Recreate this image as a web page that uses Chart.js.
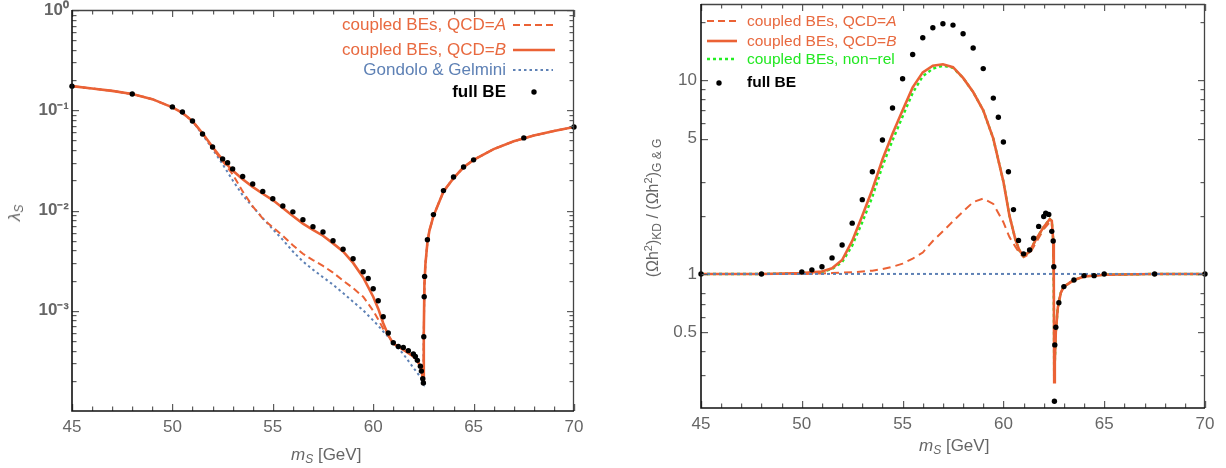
<!DOCTYPE html>
<html><head><meta charset="utf-8">
<script src="https://cdn.jsdelivr.net/npm/chart.js@4/dist/chart.umd.min.js"></script>
<style>
html,body{margin:0;padding:0;background:#fff;}
body{width:1226px;height:468px;position:relative;overflow:hidden;font-family:"Liberation Sans",Arial,Helvetica,sans-serif;}
#c1{position:absolute;left:0;top:0;}
#c2{position:absolute;left:600px;top:0;}
.t{position:absolute;white-space:nowrap;line-height:20px;}
.lg1{font-size:17px;text-align:right;right:720px;}
.lg2{font-size:15.5px;left:747px;}
.or{color:#e8693f;}
.bl{color:#5e81b5;}
.gr{color:#22e822;}
.bk{color:#000;font-weight:bold;}
.ax{color:#666;font-size:17px;}
.ax sub{font-size:12px;vertical-align:-3px;line-height:0;}
.ax sup{font-size:11px;vertical-align:6px;line-height:0;}
.rot{position:absolute;white-space:nowrap;transform:translate(-50%,-50%) rotate(-90deg);}
svg{position:absolute;left:0;top:0;pointer-events:none;}
</style>
</head><body>
<canvas id="c1" width="600" height="468"></canvas>
<canvas id="c2" width="626" height="468"></canvas>

<!-- left legend -->
<div class="t lg1 or" style="top:15px">coupled BEs, QCD=<i>A</i></div>
<div class="t lg1 or" style="top:40px">coupled BEs, QCD=<i>B</i></div>
<div class="t lg1 bl" style="top:60px">Gondolo &amp; Gelmini</div>
<div class="t lg1 bk" style="top:82px">full BE</div>
<!-- right legend -->
<div class="t lg2 or" style="top:11px">coupled BEs, QCD=<i>A</i></div>
<div class="t lg2 or" style="top:31px">coupled BEs, QCD=<i>B</i></div>
<div class="t lg2 gr" style="top:49px">coupled BEs, non−rel</div>
<div class="t lg2 bk" style="top:72px">full BE</div>

<!-- axis titles -->
<div class="t ax" style="left:291px;top:445px"><i>m</i><sub><i>S</i></sub> [GeV]</div>
<div class="t ax" style="left:919px;top:436px"><i>m</i><sub><i>S</i></sub> [GeV]</div>
<div class="rot ax" style="left:15px;top:213px"><i>λ</i><sub><i>S</i></sub></div>
<div class="rot ax" style="left:653px;top:208px;font-size:16px">(Ωh<sup>2</sup>)<sub>KD</sub> / (Ωh<sup>2</sup>)<sub>G &amp; G</sub></div>

<svg width="1226" height="468">
  <line x1="513" y1="25" x2="555" y2="25" stroke="#eb6235" stroke-width="2" stroke-dasharray="7,4"/>
  <line x1="513" y1="50" x2="555" y2="50" stroke="#eb6235" stroke-width="2.6"/>
  <line x1="513" y1="70" x2="553" y2="70" stroke="#5e81b5" stroke-width="2" stroke-dasharray="2.5,3"/>
  <circle cx="534" cy="92" r="2.7" fill="#000"/>
  <line x1="707" y1="21" x2="737" y2="21" stroke="#eb6235" stroke-width="2" stroke-dasharray="7,4"/>
  <line x1="707" y1="41" x2="737" y2="41" stroke="#eb6235" stroke-width="2.6"/>
  <line x1="707" y1="59" x2="737" y2="59" stroke="#22ee22" stroke-width="2.4" stroke-dasharray="3,3"/>
  <circle cx="719" cy="83" r="2.7" fill="#000"/>
</svg>

<script>
// ---------- tick values / labels ----------
const xTickValues = [45, 50, 55, 60, 65, 70];
const leftYTickValues = [0.001, 0.01, 0.1, 1];
const leftYTickLabels = ['10⁻³', '10⁻²', '10⁻¹', '10⁰'];
const rightYTickValues = [0.5, 1, 5, 10];
const rightYTickLabels = ['0.5', '1', '5', '10'];
const rightYMinorTicks = [0.3, 0.4, 0.6, 0.7, 0.8, 2, 3, 6, 7, 8, 9, 20];

// ---------- left panel data (lambda_S) ----------
const leftX  = [45, 46, 47, 48, 49, 50, 50.5, 51, 51.5, 52,
                52.5, 53, 53.5, 54, 54.5, 55, 55.5, 56, 56.5, 57,
                57.5, 58, 58.5, 59, 59.5, 60, 60.25, 60.5, 60.75, 61,
                61.5, 62, 62.2, 62.4, 62.5, 62.52, 62.55, 62.6, 62.7, 62.8,
                63, 63.5, 64, 64.5, 65, 66, 67, 68, 69, 70];
const leftB  = [0.174, 0.165, 0.156, 0.145, 0.129, 0.107, 0.094, 0.078, 0.059, 0.043,
                0.032, 0.025, 0.0205, 0.0172, 0.0147, 0.0127, 0.0106, 0.0088, 0.0074, 0.0064,
                0.0056, 0.0047, 0.0039, 0.0030, 0.00215, 0.00138, 0.00105, 0.00075, 0.00057, 0.00047,
                0.00041, 0.00035, 0.00032, 0.00026, 0.00019, 0.0006, 0.0018, 0.0029, 0.0048, 0.0063,
                0.0088, 0.0155, 0.021, 0.027, 0.032, 0.041, 0.049, 0.056, 0.062, 0.068];
const leftA  = [0.174, 0.165, 0.156, 0.145, 0.129, 0.107, 0.094, 0.078, 0.059, 0.042,
                0.031, 0.023, 0.0155, 0.011, 0.0083, 0.0068, 0.0056, 0.0045, 0.0037, 0.0032,
                0.0028, 0.0024, 0.0020, 0.00168, 0.00138, 0.00100, 0.00082, 0.00066, 0.00057, 0.00047,
                0.00041, 0.00035, 0.00032, 0.00026, 0.00019, 0.0006, 0.0018, 0.0029, 0.0048, 0.0063,
                0.0088, 0.0155, 0.021, 0.027, 0.032, 0.041, 0.049, 0.056, 0.062, 0.068];
const leftGG = [0.174, 0.165, 0.156, 0.145, 0.129, 0.107, 0.094, 0.078, 0.057, 0.041,
                0.029, 0.020, 0.0142, 0.0109, 0.0084, 0.0065, 0.0051, 0.0039, 0.0031, 0.00257,
                0.00216, 0.00182, 0.0015, 0.00123, 0.00101, 0.0008, 0.00071, 0.00062, 0.00055, 0.00048,
                0.00037, 0.00027, 0.00024, 0.00021, 0.00019, 0.0006, 0.0018, 0.0029, 0.0048, 0.0063,
                0.0088, 0.0155, 0.021, 0.027, 0.032, 0.041, 0.049, 0.056, 0.062, 0.068];
const leftBEx = [45, 48, 50, 50.5, 51, 51.5, 52, 52.5, 52.75, 53,
                 53.5, 54, 54.5, 55, 55.5, 56, 56.5, 57, 57.5, 58,
                 58.5, 59, 59.5, 59.75, 60, 60.25, 60.5, 60.75, 61, 61.25,
                 61.5, 61.75, 62, 62.1, 62.2, 62.35, 62.4, 62.47, 62.5, 62.52,
                 62.54, 62.56, 62.7, 63, 63.5, 64, 64.5, 65, 67.5, 70];
const leftBEy = [0.174, 0.145, 0.108, 0.096, 0.078, 0.058, 0.043, 0.0327, 0.030, 0.026,
                 0.0218, 0.0184, 0.0155, 0.0131, 0.0111, 0.0097, 0.0081, 0.0069, 0.0061, 0.0050,
                 0.0041, 0.0033, 0.00245, 0.0021, 0.00166, 0.00126, 0.00087, 0.00060, 0.00048, 0.00044,
                 0.00043, 0.00040, 0.00037, 0.00035, 0.00032, 0.00028, 0.00025, 0.00021, 0.00019, 0.00055,
                 0.00138, 0.0022, 0.0051, 0.0091, 0.0158, 0.0216, 0.0272, 0.032, 0.053, 0.068];

// ---------- right panel data (relic abundance ratio) ----------
const rightX = [45, 48, 50, 51, 51.5, 52, 52.5, 53, 53.5, 54,
                54.5, 55, 55.5, 56, 56.5, 57, 57.5, 58, 58.5, 59,
                59.5, 60, 60.3, 60.6, 60.8, 61, 61.3, 61.6, 62, 62.3,
                62.4, 62.47, 62.5, 62.52, 62.55, 62.6, 62.7, 62.85, 63, 63.5,
                64, 65, 67.5, 70];
const rightB = [1.0, 1.0, 1.01, 1.03, 1.07, 1.18, 1.48, 2.0, 2.73, 3.9,
                5.3, 7.0, 9.2, 11.0, 11.9, 12.1, 11.7, 10.3, 8.7, 7.0,
                5.0, 3.0, 2.0, 1.5, 1.32, 1.24, 1.3, 1.5, 1.75, 1.92,
                1.88, 1.5, 0.9, 0.276, 0.35, 0.5, 0.67, 0.8, 0.86, 0.93,
                0.97, 0.99, 1.0, 1.0];
const rightNR = [1.0, 1.0, 1.01, 1.025, 1.06, 1.15, 1.4, 1.85, 2.5, 3.6,
                 4.9, 6.5, 8.6, 10.5, 11.5, 11.9, 11.6, 10.3, 8.7, 7.0,
                 5.0, 3.0, 2.0, 1.5, 1.32, 1.24, 1.3, 1.5, 1.75, 1.92,
                 1.88, 1.5, 0.9, 0.276, 0.35, 0.5, 0.67, 0.8, 0.86, 0.93,
                 0.97, 0.99, 1.0, 1.0];
const rightA = [1.0, 1.0, 1.0, 1.005, 1.01, 1.015, 1.02, 1.03, 1.04, 1.06,
                1.09, 1.13, 1.2, 1.29, 1.48, 1.66, 1.87, 2.1, 2.35, 2.45,
                2.3, 1.85, 1.55, 1.38, 1.28, 1.22, 1.27, 1.44, 1.7, 1.85,
                1.82, 1.45, 0.9, 0.3, 0.38, 0.52, 0.7, 0.8, 0.87, 0.93,
                0.97, 0.99, 1.0, 1.0];
const rightGGx = [45, 70];
const rightGG  = [1.0, 1.0];
const rightBEx = [45, 48, 50, 50.5, 51, 51.5, 52, 52.5, 53, 53.5,
                  54, 54.5, 55, 55.5, 56, 56.5, 57, 57.5, 58, 58.5,
                  59, 59.5, 59.75, 60, 60.25, 60.5, 60.75, 61, 61.3, 61.5,
                  61.75, 62, 62.1, 62.25, 62.4, 62.47, 62.5, 62.53, 62.55, 62.6,
                  62.75, 63, 63.5, 64, 64.5, 65, 67.5, 70];
const rightBEy = [1.0, 1.0, 1.024, 1.05, 1.09, 1.21, 1.41, 1.83, 2.42, 3.37,
                  4.92, 7.2, 10.2, 13.6, 16.6, 18.7, 19.6, 19.3, 17.4, 14.7,
                  11.5, 8.1, 6.45, 4.8, 3.37, 2.15, 1.49, 1.27, 1.33, 1.53,
                  1.76, 1.98, 2.06, 2.03, 1.66, 1.48, 1.09, 0.22, 0.43, 0.53,
                  0.71, 0.86, 0.93, 0.98, 0.98, 1.0, 1.0, 1.0];

// ---------- helpers ----------
const ORANGE = '#eb6235', BLUE = '#5e81b5', GREEN = '#22ee22';
const pts = (xs, ys) => xs.map((x, i) => ({x, y: ys[i]}));
const xMinorTicks = [];
for (let v = 46; v < 70; v++) if (v % 5) xMinorTicks.push(v);
const leftYMinorTicks = [];
for (let k = -4; k <= -1; k++) for (let m = 2; m <= 9; m++) leftYMinorTicks.push(+(m * Math.pow(10, k)).toPrecision(3));

const framePlugin = {
  id: 'frameTicks',
  afterDraw(chart, args, o) {
    const {ctx, chartArea: a} = chart;
    const xs = chart.scales.x, ys = chart.scales.y;
    ctx.save();
    ctx.setLineDash([]);
    ctx.fillStyle = '#5c5c5c';
    const xt = (v, l) => { const p = Math.round(xs.getPixelForValue(v));
      ctx.fillRect(p, a.bottom - l, 1.2, l); ctx.fillRect(p, a.top, 1.2, l); };
    const yt = (v, l) => { const p = Math.round(ys.getPixelForValue(v));
      ctx.fillRect(a.left, p, l, 1.2); ctx.fillRect(a.right - l, p, l, 1.2); };
    [...o.xMajor].forEach(v => xt(v, 7)); [...o.xMinor].forEach(v => xt(v, 4.5));
    [...o.yMajor].forEach(v => yt(v, 7)); [...o.yMinor].forEach(v => yt(v, 4.5));
    ctx.lineCap = 'butt';
    ctx.strokeStyle = '#444'; ctx.lineWidth = 1.3;
    ctx.beginPath(); ctx.moveTo(a.left, a.top + 0.5); ctx.lineTo(a.right - 0.5, a.top + 0.5); ctx.lineTo(a.right - 0.5, a.bottom); ctx.stroke();
    ctx.strokeStyle = '#111'; ctx.lineWidth = 1.6;
    ctx.beginPath(); ctx.moveTo(a.left, a.top); ctx.lineTo(a.left, a.bottom); ctx.lineTo(a.right, a.bottom); ctx.stroke();
    ctx.restore();
  }
};

function lineDS(data, color, width, dash, order) {
  return {type: 'scatter', data, showLine: true, borderColor: color, backgroundColor: color,
          borderWidth: width, borderDash: dash, pointRadius: 0, order, tension: 0};
}
function dotDS(data, order) {
  return {type: 'scatter', data, showLine: false, pointRadius: 2.7, pointBackgroundColor: '#000',
          pointBorderWidth: 0, borderColor: '#000', order, clip: 4};
}

function makeScales(yMin, yMax, yVals, yLabels, yFont, yWidth, xHeight, yPad) {
  return {
    x: {type: 'linear', min: 45, max: 70, bounds: 'data',
        afterBuildTicks: s => { s.ticks = xTickValues.map(v => ({value: v})); },
        afterFit: s => { s.height = xHeight; },
        grid: {display: false, drawTicks: false}, border: {display: false},
        ticks: {color: '#666', font: {family: '"Liberation Sans", Arial', size: 17}, padding: 6, maxRotation: 0, autoSkip: false}},
    y: {type: 'logarithmic', min: yMin, max: yMax, bounds: 'data',
        afterBuildTicks: s => { s.ticks = yVals.map(v => ({value: v})); },
        afterFit: s => { s.width = yWidth; s.paddingTop = 0; s.paddingBottom = 0; },
        grid: {display: false, drawTicks: false}, border: {display: false},
        ticks: {color: '#666', font: yFont, padding: yPad, autoSkip: false,
                callback: (v) => { const i = yVals.findIndex(t => Math.abs(t - v) / t < 1e-6); return i >= 0 ? yLabels[i] : ''; }}}
  };
}

Chart.defaults.devicePixelRatio = 1;

new Chart(document.getElementById('c1'), {
  type: 'scatter',
  data: {datasets: [
    dotDS(pts(leftBEx, leftBEy), 0),
    lineDS(pts(leftX, leftB), ORANGE, 2.6, [], 1),
    lineDS(pts(leftX, leftA), ORANGE, 2, [7, 4], 2),
    lineDS(pts(leftX, leftGG), BLUE, 2, [2.5, 3], 3)
  ]},
  options: {
    responsive: false, animation: false, events: [],
    layout: {padding: {left: 0, right: 26, top: 10, bottom: 0}},
    plugins: {legend: {display: false}, tooltip: {enabled: false},
              frameTicks: {xMajor: xTickValues, xMinor: xMinorTicks, yMajor: leftYTickValues, yMinor: leftYMinorTicks}},
    scales: makeScales(1e-4, 1, leftYTickValues, leftYTickLabels,
                       {family: '"Liberation Sans", Arial', size: 17, weight: 'bold'}, 72, 57, 3)
  },
  plugins: [framePlugin]
});

new Chart(document.getElementById('c2'), {
  type: 'scatter',
  data: {datasets: [
    dotDS(pts(rightBEx, rightBEy), 0),
    lineDS(pts(rightGGx, rightGG), BLUE, 2, [3, 3], 1),
    lineDS(pts(rightX, rightB), ORANGE, 2.6, [], 2),
    lineDS(pts(rightX, rightNR), GREEN, 2.4, [3, 3], 3),
    lineDS(pts(rightX, rightA), ORANGE, 2, [8, 5], 4)
  ]},
  options: {
    responsive: false, animation: false, events: [],
    layout: {padding: {left: 0, right: 21, top: 1, bottom: 0}},
    plugins: {legend: {display: false}, tooltip: {enabled: false},
              frameTicks: {xMajor: xTickValues, xMinor: xMinorTicks, yMajor: rightYTickValues, yMinor: rightYMinorTicks}},
    scales: makeScales(0.203, 24.8, rightYTickValues, rightYTickLabels,
                       {family: '"Liberation Sans", Arial', size: 17}, 101, 60, 4)
  },
  plugins: [framePlugin]
});
</script>
</body></html>
